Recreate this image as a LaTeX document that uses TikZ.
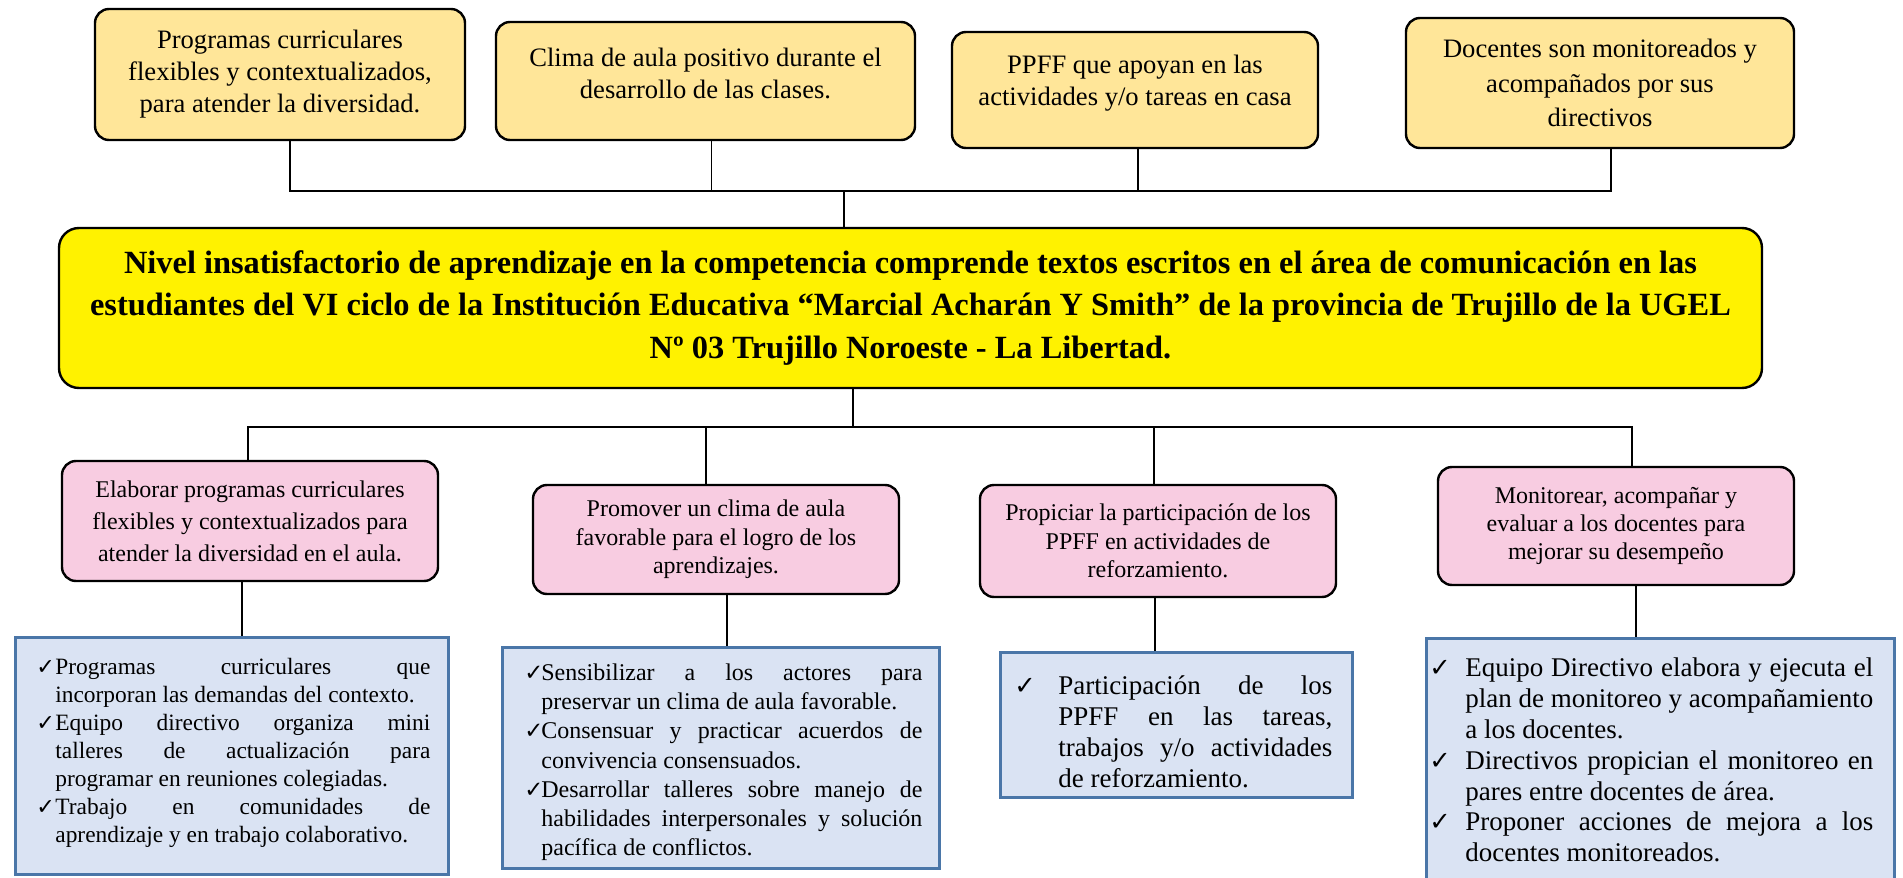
\documentclass[tikz,border=0pt]{standalone}
\usepackage{fontspec}
\setmainfont{Liberation Serif}
\newfontfamily\chkfont[Scale=0.95]{DejaVu Sans}
\usetikzlibrary{calc}

\definecolor{causafill}{HTML}{FFE699}
\definecolor{medfill}{HTML}{F8CCE1}
\definecolor{accfill}{HTML}{DAE3F3}
\definecolor{accline}{HTML}{4A76A8}

\hyphenpenalty=10000
\exhyphenpenalty=10000
\newcommand{\itemchk}[1]{\par\noindent\hangindent=#1\hangafter=1\makebox[#1][l]{{\chkfont ✓}}}

\begin{document}
\begin{tikzpicture}[x=0.5pt, y=-0.5pt,
		causa/.style={rectangle, rounded corners=7pt, draw, line width=1.2pt, fill=causafill, align=center, font={\fontsize{13.3}{16}\selectfont}},
		causatxt/.style={align=center, inner sep=0pt, font={\fontsize{13.3}{16}\selectfont}},
		problema/.style={rectangle, rounded corners=10pt, draw, line width=1.2pt, fill=yellow, align=center, font={\fontsize{16.2}{21.2}\selectfont\bfseries}},
		medio/.style={rectangle, rounded corners=7pt, draw, line width=1.2pt, fill=medfill, align=center, font={\fontsize{12}{14.2}\selectfont}},
		accion/.style={rectangle, draw=accline, line width=1.5pt, fill=accfill},
		texto/.style={anchor=west, inner sep=0pt, align=justify},
		conn/.style={line width=0.6pt}]
		\useasboundingbox (0, 0) rectangle (1903, 878);
		\node(C1) at (280, 74.5)[causa, minimum width=185pt, minimum height=65.5pt]{Programas curriculares\\flexibles y contextualizados,\\para atender la diversidad.};
		\node(C2) at (705.5, 81)[causa, minimum width=209.5pt, minimum height=59pt]{};
		\node(C2T) at (705.5, 73)[causatxt]{Clima de aula positivo durante el\\desarrollo de las clases.};
		\node(C3) at (1135, 90)[causa, minimum width=183pt, minimum height=58pt]{};
		\node(C3T) at (1135, 83)[causatxt]{PPFF que apoyan en las\\actividades y/o tareas en casa};
		\node(C4) at (1600, 83)[causa, minimum width=194pt, minimum height=65pt, font={\fontsize{13.3}{17.2}\selectfont}]{Docentes son monitoreados y\\acompañados por sus\\directivos};
		\node(PROB) at (910.5, 308)[problema, minimum width=851.5pt, minimum height=80pt]{Nivel insatisfactorio de aprendizaje en la competencia comprende textos escritos en el área de comunicación en las\\estudiantes del VI ciclo de la Institución Educativa “Marcial Acharán Y Smith” de la provincia de Trujillo de la UGEL\\Nº 03 Trujillo Noroeste - La Libertad.};
		\coordinate(BT) at (844, 191);
		\coordinate(BB) at (853, 427);
		\draw[conn] ([xshift=5pt]C1.south) -- ([xshift=5pt]C1.south |- BT) -- ([xshift=5.5pt]C4.south |- BT) -- ([xshift=5.5pt]C4.south);
		\draw[conn] ([xshift=3pt]C2.south) -- ([xshift=3pt]C2.south |- BT);
		\draw[conn] ([xshift=1.5pt]C3.south) -- ([xshift=1.5pt]C3.south |- BT);
		\draw[conn] (BT) -- (BT |- PROB.north);
		\node(M1) at (250, 521)[medio, minimum width=188pt, minimum height=60pt, font={\fontsize{12}{16}\selectfont}]{Elaborar programas curriculares\\flexibles y contextualizados para\\atender la diversidad en el aula.};
		\node(M2) at (716, 539.5)[medio, minimum width=183pt, minimum height=54.5pt]{Promover un clima de aula\\favorable para el logro de los\\aprendizajes.};
		\node(M3) at (1158, 541)[medio, minimum width=178pt, minimum height=56pt]{Propiciar la participación de los\\PPFF en actividades de\\reforzamiento.};
		\node(M4) at (1616, 526)[medio, minimum width=178pt, minimum height=59pt, font={\fontsize{12}{13.8}\selectfont}]{Monitorear, acompañar y\\evaluar a los docentes para\\mejorar su desempeño};
		\draw[conn] (PROB.south -| BB) -- (BB);
		\draw[conn] ([xshift=-1pt]M1.north) -- ([xshift=-1pt]M1.north |- BB) -- ([xshift=8pt]M4.north |- BB) -- ([xshift=8pt]M4.north);
		\draw[conn] ([xshift=-5pt]M2.north) -- ([xshift=-5pt]M2.north |- BB);
		\draw[conn] ([xshift=-2pt]M3.north) -- ([xshift=-2pt]M3.north |- BB);
		\node(A1) at (231.5, 755.5)[accion, minimum width=216.5pt, minimum height=118.5pt]{};
		\node(A2) at (720.5, 757.5)[accion, minimum width=218.5pt, minimum height=110.5pt]{};
		\node(A3) at (1176, 724.5)[accion, minimum width=176pt, minimum height=72.5pt]{};
		\node(A4) at (1660, 769)[accion, minimum width=234pt, minimum height=131pt]{};
		\draw[line width=1pt] ([xshift=-4pt]M1.south) -- ([xshift=-4pt]M1.south |- A1.north);
		\draw[line width=1pt] ([xshift=5.5pt]M2.south) -- ([xshift=5.5pt]M2.south |- A2.north);
		\draw[line width=1pt] ([xshift=-1.5pt]M3.south) -- ([xshift=-1.5pt]M3.south |- A3.north);
		\draw[line width=1pt] ([xshift=10pt]M4.south) -- ([xshift=10pt]M4.south |- A4.north);
		\node(A1T) at (36, 747)[texto, text width=197pt, font={\fontsize{11.7}{14}\selectfont}]{%
			\itemchk{9.5pt}Programas curriculares que\linebreak incorporan las demandas del contexto.
			\itemchk{9.5pt}Equipo directivo organiza mini\linebreak talleres de actualización para\linebreak programar en reuniones colegiadas.
			\itemchk{9.5pt}Trabajo en comunidades de\linebreak aprendizaje y en trabajo colaborativo.\par};
		\node(A2T) at (524, 756)[texto, text width=199pt, font={\fontsize{12}{14.6}\selectfont}]{%
			\itemchk{8.5pt}Sensibilizar a los actores para\linebreak preservar un clima de aula favorable.
			\itemchk{8.5pt}Consensuar y practicar acuerdos de\linebreak convivencia consensuados.
			\itemchk{8.5pt}Desarrollar talleres sobre manejo de\linebreak habilidades interpersonales y solución\linebreak pacífica de conflictos.\par};
		\node(A3T) at (1014, 725.5)[texto, text width=159pt, font={\fontsize{13.5}{15.5}\selectfont}]{%
			\itemchk{22pt}Participación de los\linebreak PPFF en las tareas,\linebreak trabajos y/o actividades\linebreak de reforzamiento.\par};
		\node(A4T) at (1429, 754)[texto, text width=222pt, font={\fontsize{13.5}{15.4}\selectfont}]{%
			\itemchk{18pt}Equipo Directivo elabora y ejecuta el\linebreak plan de monitoreo y acompañamiento\linebreak a los docentes.
			\itemchk{18pt}Directivos propician el monitoreo en\linebreak pares entre docentes de área.
			\itemchk{18pt}Proponer acciones de mejora a los\linebreak docentes monitoreados.\par};
\end{tikzpicture}
\end{document}
